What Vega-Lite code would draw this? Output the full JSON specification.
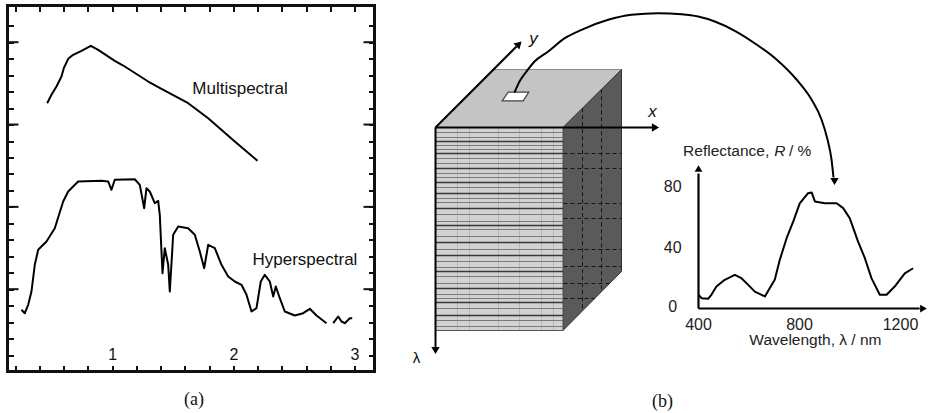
{
  "$schema": "https://vega.github.io/schema/vega-lite/v6.json",
  "background": "white",
  "padding": {"left": 4.5, "top": 2.5, "right": 0, "bottom": 0},
  "autosize": {"type": "pad"},
  "bounds": "flush",
  "spacing": 32,
  "hconcat": [
    {
      "width": 367,
      "height": 366,
      "view": {"stroke": "#111", "strokeWidth": 3},
      "layer": [
        {
          "data": {"values": [
            {"seg": "multi", "wl": 0.4635, "r": 16.295},
            {"seg": "multi", "wl": 0.499, "r": 16.806},
            {"seg": "multi", "wl": 0.5403, "r": 17.31},
            {"seg": "multi", "wl": 0.5816, "r": 17.917},
            {"seg": "multi", "wl": 0.6005, "r": 18.421},
            {"seg": "multi", "wl": 0.6368, "r": 18.992},
            {"seg": "multi", "wl": 0.6781, "r": 19.235},
            {"seg": "multi", "wl": 0.7466, "r": 19.478},
            {"seg": "multi", "wl": 0.8234, "r": 19.782},
            {"seg": "multi", "wl": 0.8844, "r": 19.539},
            {"seg": "multi", "wl": 1.0215, "r": 18.871},
            {"seg": "multi", "wl": 1.0908, "r": 18.585},
            {"seg": "multi", "wl": 1.2972, "r": 17.613},
            {"seg": "multi", "wl": 1.4069, "r": 17.17},
            {"seg": "multi", "wl": 1.6273, "r": 16.295},
            {"seg": "multi", "wl": 1.7924, "r": 15.384},
            {"seg": "multi", "wl": 2.012, "r": 13.969},
            {"seg": "multi", "wl": 2.1993, "r": 12.797},
            {"seg": "hyper1", "wl": 0.2513, "r": 3.747},
            {"seg": "hyper1", "wl": 0.2786, "r": 3.541},
            {"seg": "hyper1", "wl": 0.3066, "r": 4.051},
            {"seg": "hyper1", "wl": 0.3339, "r": 4.859},
            {"seg": "hyper1", "wl": 0.3611, "r": 6.48},
            {"seg": "hyper1", "wl": 0.3892, "r": 7.391},
            {"seg": "hyper1", "wl": 0.4577, "r": 7.896},
            {"seg": "hyper1", "wl": 0.5262, "r": 8.703},
            {"seg": "hyper1", "wl": 0.5955, "r": 10.325},
            {"seg": "hyper1", "wl": 0.6368, "r": 10.932},
            {"seg": "hyper1", "wl": 0.7193, "r": 11.54},
            {"seg": "hyper1", "wl": 0.9117, "r": 11.582},
            {"seg": "hyper1", "wl": 0.967, "r": 11.54},
            {"seg": "hyper1", "wl": 0.9942, "r": 11.036},
            {"seg": "hyper1", "wl": 1.0215, "r": 11.643},
            {"seg": "hyper1", "wl": 1.1865, "r": 11.679},
            {"seg": "hyper1", "wl": 1.2278, "r": 11.339},
            {"seg": "hyper1", "wl": 1.2641, "r": 9.918},
            {"seg": "hyper1", "wl": 1.2831, "r": 11.133},
            {"seg": "hyper1", "wl": 1.3104, "r": 10.932},
            {"seg": "hyper1", "wl": 1.3516, "r": 10.222},
            {"seg": "hyper1", "wl": 1.3797, "r": 10.367},
            {"seg": "hyper1", "wl": 1.3929, "r": 9.517},
            {"seg": "hyper1", "wl": 1.4152, "r": 5.97},
            {"seg": "hyper1", "wl": 1.4342, "r": 7.489},
            {"seg": "hyper1", "wl": 1.4622, "r": 6.48},
            {"seg": "hyper1", "wl": 1.4755, "r": 4.859},
            {"seg": "hyper1", "wl": 1.5035, "r": 8.302},
            {"seg": "hyper1", "wl": 1.5448, "r": 8.807},
            {"seg": "hyper1", "wl": 1.6273, "r": 8.703},
            {"seg": "hyper1", "wl": 1.6818, "r": 8.302},
            {"seg": "hyper1", "wl": 1.7231, "r": 7.288},
            {"seg": "hyper1", "wl": 1.7594, "r": 6.274},
            {"seg": "hyper1", "wl": 1.7924, "r": 7.695},
            {"seg": "hyper1", "wl": 1.8469, "r": 7.489},
            {"seg": "hyper1", "wl": 1.9022, "r": 6.48},
            {"seg": "hyper1", "wl": 1.9575, "r": 5.77},
            {"seg": "hyper1", "wl": 2.012, "r": 5.466},
            {"seg": "hyper1", "wl": 2.0672, "r": 5.266},
            {"seg": "hyper1", "wl": 2.1085, "r": 4.658},
            {"seg": "hyper1", "wl": 2.1498, "r": 3.644},
            {"seg": "hyper1", "wl": 2.191, "r": 3.845},
            {"seg": "hyper1", "wl": 2.2265, "r": 5.466},
            {"seg": "hyper1", "wl": 2.2596, "r": 5.873},
            {"seg": "hyper1", "wl": 2.3009, "r": 5.466},
            {"seg": "hyper1", "wl": 2.3289, "r": 4.555},
            {"seg": "hyper1", "wl": 2.3504, "r": 5.162},
            {"seg": "hyper1", "wl": 2.3834, "r": 4.452},
            {"seg": "hyper1", "wl": 2.4247, "r": 3.644},
            {"seg": "hyper1", "wl": 2.5072, "r": 3.401},
            {"seg": "hyper1", "wl": 2.5766, "r": 3.541},
            {"seg": "hyper1", "wl": 2.6311, "r": 3.808},
            {"seg": "hyper1", "wl": 2.6864, "r": 3.401},
            {"seg": "hyper1", "wl": 2.7689, "r": 2.933},
            {"seg": "hyper2", "wl": 2.8242, "r": 2.933},
            {"seg": "hyper2", "wl": 2.8655, "r": 3.34},
            {"seg": "hyper2", "wl": 2.8927, "r": 3.037},
            {"seg": "hyper2", "wl": 2.92, "r": 2.933},
            {"seg": "hyper2", "wl": 2.9612, "r": 3.237},
            {"seg": "hyper2", "wl": 2.981, "r": 3.237}
          ]},
          "mark": {"type": "line", "color": "#000", "strokeWidth": 2, "strokeJoin": "round"},
          "encoding": {
            "x": {"field": "wl", "type": "quantitative",
              "scale": {"domain": [0.136, 3.165], "nice": false, "zero": false},
              "axis": {"orient": "bottom", "values": [0.2, 0.4, 0.6, 0.8, 1, 1.2, 1.4, 1.6, 1.8, 2, 2.2, 2.4, 2.6, 2.8, 3],
                "tickSize": -6, "tickWidth": 2, "tickColor": "#111", "domain": false, "grid": false,
                "labelExpr": "datum.value == 1 || datum.value == 2 || datum.value == 3 ? format(datum.value, 'd') : ''",
                "labelFont": "Liberation Sans", "labelFontSize": 16, "labelColor": "#111",
                "labelPadding": -11.5, "labelBaseline": "middle", "labelFlush": false, "labelOverlap": false,
                "title": "(a)", "titleFont": "Liberation Serif", "titleFontSize": 18, "titleFontWeight": "normal",
                "titleColor": "#111", "titleY": 28, "titleX": 186, "titleBaseline": "middle", "titleAlign": "center"}},
            "y": {"field": "r", "type": "quantitative",
              "scale": {"domain": [0, 22.23], "nice": false, "zero": false},
              "axis": {"orient": "left", "values": [1, 2, 3, 4, 5, 6, 7, 8, 9, 10, 11, 12, 13, 14, 15, 16, 17, 18, 19, 20, 21],
                "tickSize": -6,
                "tickWidth": 2, "tickColor": "#111", "labels": false, "domain": false, "grid": false, "title": null}},
            "detail": {"field": "seg"}
          }
        },
        {
          "data": {"values": [
            {"label": "Multispectral", "wl": 2.055, "r": 17.145},
            {"label": "Hyperspectral", "wl": 2.591, "r": 6.784}
          ]},
          "mark": {"type": "text", "font": "Liberation Sans", "fontSize": 17, "color": "#111", "baseline": "middle", "align": "center"},
          "encoding": {
            "x": {"field": "wl", "type": "quantitative",
              "scale": {"domain": [0.136, 3.165], "nice": false, "zero": false},
              "axis": {"orient": "top", "values": [0.2, 0.4, 0.6, 0.8, 1, 1.2, 1.4, 1.6, 1.8, 2, 2.2, 2.4, 2.6, 2.8, 3],
                "tickSize": -6, "tickWidth": 2, "tickColor": "#111", "labels": false, "domain": false, "grid": false, "title": null}},
            "y": {"field": "r", "type": "quantitative",
              "scale": {"domain": [0, 22.23], "nice": false, "zero": false},
              "axis": {"orient": "right", "values": [1, 2, 3, 4, 5, 6, 7, 8, 9, 10, 11, 12, 13, 14, 15, 16, 17, 18, 19, 20, 21],
                "tickSize": -6,
                "tickWidth": 2, "tickColor": "#111", "labels": false, "domain": false, "grid": false, "title": null}},
            "text": {"field": "label"}
          }
        },
        {
          "data": {"values": [
            {"r": 5, "wa": 0.136, "wb": 0.2268}, {"r": 10, "wa": 0.136, "wb": 0.2268},
            {"r": 15, "wa": 0.136, "wb": 0.2268}, {"r": 20, "wa": 0.136, "wb": 0.2268},
            {"r": 5, "wa": 3.0742, "wb": 3.165}, {"r": 10, "wa": 3.0742, "wb": 3.165},
            {"r": 15, "wa": 3.0742, "wb": 3.165}, {"r": 20, "wa": 3.0742, "wb": 3.165}
          ]},
          "mark": {"type": "rule", "color": "#111", "strokeWidth": 2},
          "encoding": {
            "x": {"field": "wa", "type": "quantitative", "scale": {"domain": [0.136, 3.165], "nice": false, "zero": false}, "axis": null},
            "x2": {"field": "wb"},
            "y": {"field": "r", "type": "quantitative", "scale": {"domain": [0, 22.23], "nice": false, "zero": false}, "axis": null}
          }
        }
      ],
      "resolve": {"scale": {"x": "independent", "y": "independent"}}
    },
    {
      "width": 525,
      "height": 409,
      "view": {"stroke": null},
      "layer": [
        {
          "data": {"values": [
            {"u": 434, "v": 126, "v2": 126},
            {"u": 492, "v": 68, "v2": 126},
            {"u": 561.5, "v": 68, "v2": 126},
            {"u": 620, "v": 68, "v2": 68}
          ]},
          "mark": {"type": "area", "fill": "#c4c4c4", "stroke": "#8a8a8a", "strokeWidth": 1, "orient": "vertical"},
          "encoding": {
            "x": {"field": "u", "type": "quantitative", "scale": {"domain": [405, 930], "nice": false, "zero": false}, "axis": null},
            "y": {"field": "v", "type": "quantitative", "scale": {"domain": [4, 413], "nice": false, "zero": false, "reverse": true}, "axis": null},
            "y2": {"field": "v2"}
          }
        },
        {
          "data": {"values": [
            {"u": 561.5, "v": 126, "v2": 329},
            {"u": 620, "v": 68, "v2": 270}
          ]},
          "mark": {"type": "area", "fill": "#5a5a5a", "stroke": "#333", "strokeWidth": 1, "orient": "vertical"},
          "encoding": {
            "x": {"field": "u", "type": "quantitative", "scale": {"domain": [405, 930], "nice": false, "zero": false}, "axis": null},
            "y": {"field": "v", "type": "quantitative", "scale": {"domain": [4, 413], "nice": false, "zero": false, "reverse": true}, "axis": null},
            "y2": {"field": "v2"}
          }
        },
        {
          "data": {"values": [{"u": 434, "u2": 561.5, "v": 126, "v2": 329}]},
          "mark": {"type": "rect", "fill": "#d2d2d2", "stroke": "#555", "strokeWidth": 1},
          "encoding": {
            "x": {"field": "u", "type": "quantitative", "scale": {"domain": [405, 930], "nice": false, "zero": false}, "axis": null},
            "x2": {"field": "u2"},
            "y": {"field": "v", "type": "quantitative", "scale": {"domain": [4, 413], "nice": false, "zero": false, "reverse": true}, "axis": null},
            "y2": {"field": "v2"}
          }
        },
        {
          "data": {"values": [
            {"u": 456, "v": 127, "v2": 328}, {"u": 468, "v": 127, "v2": 328}, {"u": 497, "v": 127, "v2": 328},
            {"u": 518, "v": 127, "v2": 328}, {"u": 540, "v": 127, "v2": 328}, {"u": 552, "v": 127, "v2": 328}
          ]},
          "mark": {"type": "rule", "color": "#b5b5b5", "strokeWidth": 1},
          "encoding": {
            "x": {"field": "u", "type": "quantitative", "scale": {"domain": [405, 930], "nice": false, "zero": false}, "axis": null},
            "y": {"field": "v", "type": "quantitative", "scale": {"domain": [4, 413], "nice": false, "zero": false, "reverse": true}, "axis": null},
            "y2": {"field": "v2"}
          }
        },
        {
          "data": {"values": [
            {"v": 131, "uA": 434, "uB": 561.5}, {"v": 136, "uA": 434, "uB": 561.5}, {"v": 144, "uA": 434, "uB": 561.5},
            {"v": 148, "uA": 434, "uB": 561.5}, {"v": 157, "uA": 434, "uB": 561.5}, {"v": 162, "uA": 434, "uB": 561.5},
            {"v": 172, "uA": 434, "uB": 561.5}, {"v": 176, "uA": 434, "uB": 561.5}, {"v": 186, "uA": 434, "uB": 561.5},
            {"v": 197, "uA": 434, "uB": 561.5}, {"v": 201, "uA": 434, "uB": 561.5}, {"v": 213, "uA": 434, "uB": 561.5},
            {"v": 220, "uA": 434, "uB": 561.5}, {"v": 228, "uA": 434, "uB": 561.5}, {"v": 235, "uA": 434, "uB": 561.5},
            {"v": 248, "uA": 434, "uB": 561.5}, {"v": 260, "uA": 434, "uB": 561.5}, {"v": 266, "uA": 434, "uB": 561.5},
            {"v": 275, "uA": 434, "uB": 561.5}, {"v": 282, "uA": 434, "uB": 561.5}, {"v": 293, "uA": 434, "uB": 561.5},
            {"v": 297, "uA": 434, "uB": 561.5}, {"v": 307, "uA": 434, "uB": 561.5}, {"v": 319, "uA": 434, "uB": 561.5},
            {"v": 325, "uA": 434, "uB": 561.5}
          ]},
          "mark": {"type": "rule", "color": "#7a7a7a", "strokeWidth": 1.2},
          "encoding": {
            "x": {"field": "uA", "type": "quantitative", "scale": {"domain": [405, 930], "nice": false, "zero": false}, "axis": null},
            "x2": {"field": "uB"},
            "y": {"field": "v", "type": "quantitative", "scale": {"domain": [4, 413], "nice": false, "zero": false, "reverse": true}, "axis": null}
          }
        },
        {
          "data": {"values": [
            {"v": 140, "uA": 434, "uB": 561.5}, {"v": 152, "uA": 434, "uB": 561.5}, {"v": 167, "uA": 434, "uB": 561.5},
            {"v": 181, "uA": 434, "uB": 561.5}, {"v": 192, "uA": 434, "uB": 561.5}, {"v": 207, "uA": 434, "uB": 561.5},
            {"v": 224, "uA": 434, "uB": 561.5}, {"v": 241, "uA": 434, "uB": 561.5}, {"v": 254, "uA": 434, "uB": 561.5},
            {"v": 270, "uA": 434, "uB": 561.5}, {"v": 287, "uA": 434, "uB": 561.5}, {"v": 301, "uA": 434, "uB": 561.5},
            {"v": 314, "uA": 434, "uB": 561.5}
          ]},
          "mark": {"type": "rule", "color": "#383838", "strokeWidth": 1.6},
          "encoding": {
            "x": {"field": "uA", "type": "quantitative", "scale": {"domain": [405, 930], "nice": false, "zero": false}, "axis": null},
            "x2": {"field": "uB"},
            "y": {"field": "v", "type": "quantitative", "scale": {"domain": [4, 413], "nice": false, "zero": false, "reverse": true}, "axis": null}
          }
        },
        {
          "data": {"values": [
            {"v": 152, "uA": 562, "uEnd": 620}, {"v": 167, "uA": 562, "uEnd": 620}, {"v": 202, "uA": 562, "uEnd": 620},
            {"v": 217, "uA": 562, "uEnd": 620}, {"v": 248, "uA": 562, "uEnd": 620}, {"v": 265, "uA": 562, "uEnd": 620},
            {"v": 282, "uA": 562, "uEnd": 608.1}, {"v": 297, "uA": 562, "uEnd": 593.2}
          ]},
          "mark": {"type": "rule", "color": "#151515", "strokeWidth": 1, "strokeDash": [4, 3]},
          "encoding": {
            "x": {"field": "uA", "type": "quantitative", "scale": {"domain": [405, 930], "nice": false, "zero": false}, "axis": null},
            "x2": {"field": "uEnd"},
            "y": {"field": "v", "type": "quantitative", "scale": {"domain": [4, 413], "nice": false, "zero": false, "reverse": true}, "axis": null}
          }
        },
        {
          "data": {"values": [
            {"u": 581, "vTop": 106.7, "vBot": 309.3},
            {"u": 600, "vTop": 87.8, "vBot": 290.2}
          ]},
          "mark": {"type": "rule", "color": "#151515", "strokeWidth": 1, "strokeDash": [4, 3]},
          "encoding": {
            "x": {"field": "u", "type": "quantitative", "scale": {"domain": [405, 930], "nice": false, "zero": false}, "axis": null},
            "y": {"field": "vTop", "type": "quantitative", "scale": {"domain": [4, 413], "nice": false, "zero": false, "reverse": true}, "axis": null},
            "y2": {"field": "vBot"}
          }
        },
        {
          "data": {"values": [
            {"u": 500.7, "v": 99.3, "v2": 99.3},
            {"u": 506.7, "v": 90.7, "v2": 99.3},
            {"u": 521.7, "v": 90.7, "v2": 99.3},
            {"u": 527.3, "v": 90.7, "v2": 90.7}
          ]},
          "mark": {"type": "area", "fill": "#ffffff", "stroke": "#444", "strokeWidth": 1.2, "orient": "vertical"},
          "encoding": {
            "x": {"field": "u", "type": "quantitative", "scale": {"domain": [405, 930], "nice": false, "zero": false}, "axis": null},
            "y": {"field": "v", "type": "quantitative", "scale": {"domain": [4, 413], "nice": false, "zero": false, "reverse": true}, "axis": null},
            "y2": {"field": "v2"}
          }
        },
        {
          "data": {"values": [
            {"u": 434, "v": 126, "u2": 651, "v2": 126},
            {"u": 434, "v": 126, "u2": 434, "v2": 346},
            {"u": 434, "v": 126, "u2": 515, "v2": 45}
          ]},
          "mark": {"type": "rule", "color": "#000", "strokeWidth": 2},
          "encoding": {
            "x": {"field": "u", "type": "quantitative", "scale": {"domain": [405, 930], "nice": false, "zero": false}, "axis": null},
            "x2": {"field": "u2"},
            "y": {"field": "v", "type": "quantitative", "scale": {"domain": [4, 413], "nice": false, "zero": false, "reverse": true}, "axis": null},
            "y2": {"field": "v2"}
          }
        },
        {
          "data": {"values": [
            {"u": 513, "v": 91}, {"u": 518, "v": 80}, {"u": 525, "v": 70}, {"u": 533, "v": 60},
            {"u": 546.7, "v": 50}, {"u": 563.3, "v": 36.7}, {"u": 580, "v": 28.3}, {"u": 606.7, "v": 18.3},
            {"u": 630, "v": 13.3}, {"u": 656.7, "v": 11.7}, {"u": 680, "v": 12.7}, {"u": 696.7, "v": 15},
            {"u": 713.3, "v": 20}, {"u": 733.3, "v": 29.3}, {"u": 755, "v": 43}, {"u": 775, "v": 58},
            {"u": 795, "v": 78}, {"u": 810, "v": 98}, {"u": 820, "v": 118}, {"u": 826, "v": 138},
            {"u": 830, "v": 158}, {"u": 832, "v": 176}
          ]},
          "mark": {"type": "line", "color": "#000", "strokeWidth": 2, "interpolate": "monotone"},
          "encoding": {
            "x": {"field": "u", "type": "quantitative", "scale": {"domain": [405, 930], "nice": false, "zero": false}, "axis": null},
            "y": {"field": "v", "type": "quantitative", "scale": {"domain": [4, 413], "nice": false, "zero": false, "reverse": true}, "axis": null}
          }
        },
        {
          "data": {"values": [{"u": 654, "v": 126}]},
          "mark": {"type": "point", "shape": "triangle-right", "filled": true, "color": "#000", "size": 70, "opacity": 1},
          "encoding": {
            "x": {"field": "u", "type": "quantitative", "scale": {"domain": [405, 930], "nice": false, "zero": false}, "axis": null},
            "y": {"field": "v", "type": "quantitative", "scale": {"domain": [4, 413], "nice": false, "zero": false, "reverse": true}, "axis": null}
          }
        },
        {
          "data": {"values": [{"u": 434, "v": 349}, {"u": 833, "v": 180}]},
          "mark": {"type": "point", "shape": "triangle-down", "filled": true, "color": "#000", "size": 70, "opacity": 1},
          "encoding": {
            "x": {"field": "u", "type": "quantitative", "scale": {"domain": [405, 930], "nice": false, "zero": false}, "axis": null},
            "y": {"field": "v", "type": "quantitative", "scale": {"domain": [4, 413], "nice": false, "zero": false, "reverse": true}, "axis": null}
          }
        },
        {
          "data": {"values": [{"u": 517.5, "v": 42.5}]},
          "mark": {"type": "point", "shape": "triangle-up", "angle": 45, "filled": true, "color": "#000", "size": 70, "opacity": 1},
          "encoding": {
            "x": {"field": "u", "type": "quantitative", "scale": {"domain": [405, 930], "nice": false, "zero": false}, "axis": null},
            "y": {"field": "v", "type": "quantitative", "scale": {"domain": [4, 413], "nice": false, "zero": false, "reverse": true}, "axis": null}
          }
        },
        {
          "data": {"values": [{"label": "x", "u": 651, "v": 110}, {"label": "y", "u": 532, "v": 37}]},
          "mark": {"type": "text", "font": "Liberation Sans", "fontSize": 17, "fontStyle": "italic", "color": "#111", "baseline": "middle", "align": "center"},
          "encoding": {
            "x": {"field": "u", "type": "quantitative", "scale": {"domain": [405, 930], "nice": false, "zero": false}, "axis": null},
            "y": {"field": "v", "type": "quantitative", "scale": {"domain": [4, 413], "nice": false, "zero": false, "reverse": true}, "axis": null},
            "text": {"field": "label"}
          }
        },
        {
          "data": {"values": [{"label": "λ", "u": 415, "v": 356}]},
          "mark": {"type": "text", "font": "Liberation Sans", "fontSize": 15, "color": "#111", "baseline": "middle", "align": "center"},
          "encoding": {
            "x": {"field": "u", "type": "quantitative", "scale": {"domain": [405, 930], "nice": false, "zero": false}, "axis": null},
            "y": {"field": "v", "type": "quantitative", "scale": {"domain": [4, 413], "nice": false, "zero": false, "reverse": true}, "axis": null},
            "text": {"field": "label"}
          }
        },
        {
          "data": {"values": [{"label": "(b)", "u": 661, "v": 400}]},
          "mark": {"type": "text", "font": "Liberation Serif", "fontSize": 18, "color": "#111", "baseline": "middle", "align": "center"},
          "encoding": {
            "x": {"field": "u", "type": "quantitative", "scale": {"domain": [405, 930], "nice": false, "zero": false}, "axis": null},
            "y": {"field": "v", "type": "quantitative", "scale": {"domain": [4, 413], "nice": false, "zero": false, "reverse": true}, "axis": null},
            "text": {"field": "label"}
          }
        },
        {
          "data": {"values": [
            {"nm": 400, "R": 9.0}, {"nm": 412, "R": 6.8}, {"nm": 438, "R": 6.4}, {"nm": 451, "R": 9.0},
            {"nm": 471, "R": 14.4}, {"nm": 504, "R": 18.8}, {"nm": 544, "R": 22.1}, {"nm": 570, "R": 19.9},
            {"nm": 597, "R": 15.5}, {"nm": 623, "R": 11.1}, {"nm": 650, "R": 9.0}, {"nm": 663, "R": 7.9},
            {"nm": 682, "R": 13.3}, {"nm": 702, "R": 18.8}, {"nm": 722, "R": 31.9}, {"nm": 749, "R": 46.1},
            {"nm": 775, "R": 57.0}, {"nm": 801, "R": 69.0}, {"nm": 834, "R": 75.6}, {"nm": 848, "R": 76.1},
            {"nm": 861, "R": 70.2}, {"nm": 900, "R": 69.0}, {"nm": 947, "R": 69.0}, {"nm": 973, "R": 65.8},
            {"nm": 999, "R": 59.2}, {"nm": 1013, "R": 52.7}, {"nm": 1032, "R": 43.9}, {"nm": 1059, "R": 33.0},
            {"nm": 1085, "R": 19.9}, {"nm": 1118, "R": 9.0}, {"nm": 1145, "R": 9.0}, {"nm": 1177, "R": 14.4},
            {"nm": 1217, "R": 23.1}, {"nm": 1250, "R": 26.4}
          ]},
          "mark": {"type": "line", "color": "#000", "strokeWidth": 2, "strokeJoin": "round"},
          "encoding": {
            "x": {"field": "nm", "type": "quantitative", "scale": {"domain": [-756.4, 1322.8], "nice": false, "zero": false}, "axis": null},
            "y": {"field": "R", "type": "quantitative", "scale": {"domain": [-69.5, 198.7], "nice": false, "zero": false}, "axis": null}
          }
        },
        {
          "data": {"values": [
            {"nm": 400, "R": 0, "nm2": 1276, "R2": 0},
            {"nm": 400, "R": 0, "nm2": 400, "R2": 88.5}
          ]},
          "mark": {"type": "rule", "color": "#000", "strokeWidth": 2.2},
          "encoding": {
            "x": {"field": "nm", "type": "quantitative", "scale": {"domain": [-756.4, 1322.8], "nice": false, "zero": false}, "axis": null},
            "x2": {"field": "nm2"},
            "y": {"field": "R", "type": "quantitative", "scale": {"domain": [-69.5, 198.7], "nice": false, "zero": false}, "axis": null},
            "y2": {"field": "R2"}
          }
        },
        {
          "data": {"values": [{"nm": 1291, "R": 0}]},
          "mark": {"type": "point", "shape": "triangle-right", "filled": true, "color": "#000", "size": 60, "opacity": 1},
          "encoding": {
            "x": {"field": "nm", "type": "quantitative", "scale": {"domain": [-756.4, 1322.8], "nice": false, "zero": false}, "axis": null},
            "y": {"field": "R", "type": "quantitative", "scale": {"domain": [-69.5, 198.7], "nice": false, "zero": false}, "axis": null}
          }
        },
        {
          "data": {"values": [{"nm": 400, "R": 91.8}]},
          "mark": {"type": "point", "shape": "triangle-up", "filled": true, "color": "#000", "size": 60, "opacity": 1},
          "encoding": {
            "x": {"field": "nm", "type": "quantitative", "scale": {"domain": [-756.4, 1322.8], "nice": false, "zero": false}, "axis": null},
            "y": {"field": "R", "type": "quantitative", "scale": {"domain": [-69.5, 198.7], "nice": false, "zero": false}, "axis": null}
          }
        },
        {
          "data": {"values": [{"label": "80", "nm": 298, "R": 80}, {"label": "40", "nm": 298, "R": 40}, {"label": "0", "nm": 298, "R": 1}]},
          "mark": {"type": "text", "font": "Liberation Sans", "fontSize": 16, "color": "#222", "baseline": "middle", "align": "center"},
          "encoding": {
            "x": {"field": "nm", "type": "quantitative", "scale": {"domain": [-756.4, 1322.8], "nice": false, "zero": false}, "axis": null},
            "y": {"field": "R", "type": "quantitative", "scale": {"domain": [-69.5, 198.7], "nice": false, "zero": false}, "axis": null},
            "text": {"field": "label"}
          }
        },
        {
          "data": {"values": [{"label": "400", "nm": 400, "R": -10.5}, {"label": "800", "nm": 800, "R": -10.5}, {"label": "1200", "nm": 1200, "R": -10.5}]},
          "mark": {"type": "text", "font": "Liberation Sans", "fontSize": 16, "color": "#222", "baseline": "middle", "align": "center"},
          "encoding": {
            "x": {"field": "nm", "type": "quantitative", "scale": {"domain": [-756.4, 1322.8], "nice": false, "zero": false}, "axis": null},
            "y": {"field": "R", "type": "quantitative", "scale": {"domain": [-69.5, 198.7], "nice": false, "zero": false}, "axis": null},
            "text": {"field": "label"}
          }
        },
        {
          "data": {"values": [{"label": "Wavelength, λ / nm", "nm": 863, "R": -20.5}]},
          "mark": {"type": "text", "font": "Liberation Sans", "fontSize": 15.5, "color": "#222", "baseline": "middle", "align": "center"},
          "encoding": {
            "x": {"field": "nm", "type": "quantitative", "scale": {"domain": [-756.4, 1322.8], "nice": false, "zero": false}, "axis": null},
            "y": {"field": "R", "type": "quantitative", "scale": {"domain": [-69.5, 198.7], "nice": false, "zero": false}, "axis": null},
            "text": {"field": "label"}
          }
        },
        {
          "data": {"values": [{"label": "Reflectance,", "nm": 339, "R": 103}, {"label": "/ %", "nm": 758, "R": 103}]},
          "mark": {"type": "text", "font": "Liberation Sans", "fontSize": 15.5, "color": "#222", "baseline": "middle", "align": "left"},
          "encoding": {
            "x": {"field": "nm", "type": "quantitative", "scale": {"domain": [-756.4, 1322.8], "nice": false, "zero": false}, "axis": null},
            "y": {"field": "R", "type": "quantitative", "scale": {"domain": [-69.5, 198.7], "nice": false, "zero": false}, "axis": null},
            "text": {"field": "label"}
          }
        },
        {
          "data": {"values": [{"label": "R", "nm": 700, "R": 103}]},
          "mark": {"type": "text", "font": "Liberation Sans", "fontSize": 15.5, "fontStyle": "italic", "color": "#222", "baseline": "middle", "align": "left"},
          "encoding": {
            "x": {"field": "nm", "type": "quantitative", "scale": {"domain": [-756.4, 1322.8], "nice": false, "zero": false}, "axis": null},
            "y": {"field": "R", "type": "quantitative", "scale": {"domain": [-69.5, 198.7], "nice": false, "zero": false}, "axis": null},
            "text": {"field": "label"}
          }
        }
      ],
      "resolve": {"scale": {"x": "independent", "y": "independent"}}
    }
  ]
}
